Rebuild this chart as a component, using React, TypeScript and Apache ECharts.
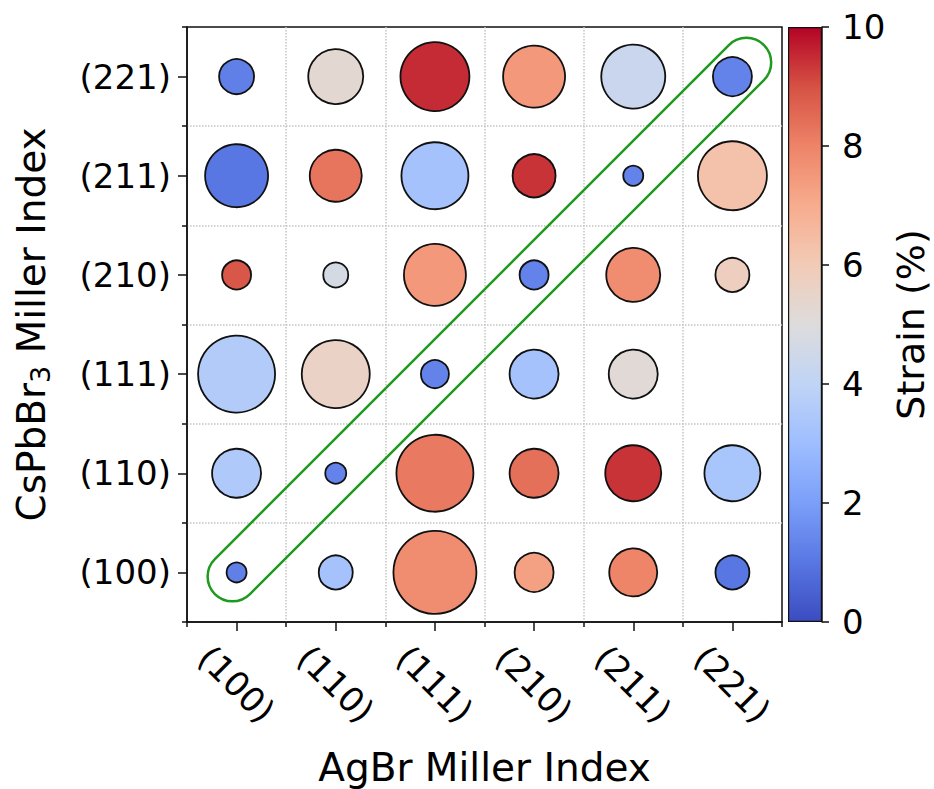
import React, { useEffect, useRef } from "react";
import * as echarts from "echarts";

// AgBr (x) and CsPbBr3 (y) Miller indices
const xLabels = ["(100)", "(110)", "(111)", "(210)", "(211)", "(221)"];
const yLabels = ["(100)", "(110)", "(111)", "(210)", "(211)", "(221)"];

// Strain (%) per row, row 0 = CsPbBr3 (100) ... row 5 = (221); null = no match
const strainRows: (number | null)[][] = [
  [1.2, 3.2, 7.8, 7.3, 8.0, 1.0],
  [3.5, 1.3, 8.2, 8.4, 9.4, 3.3],
  [3.6, 5.6, 1.3, 3.2, 5.2, null],
  [8.9, 4.7, 7.5, 1.3, 7.8, 5.8],
  [1.0, 8.3, 3.2, 9.4, 1.3, 6.3],
  [1.2, 5.3, 9.5, 7.5, 4.3, 1.3],
];

// Relative marker size per row (same layout)
const sizeRows: (number | null)[][] = [
  [2.1, 3.5, 8.4, 4.0, 4.9, 3.5],
  [5.0, 2.2, 7.8, 5.0, 5.7, 5.7],
  [7.8, 6.9, 2.9, 5.0, 5.0, null],
  [3.0, 2.6, 6.3, 3.0, 5.5, 3.5],
  [6.4, 5.3, 6.8, 4.4, 2.1, 7.0],
  [3.6, 5.6, 7.0, 6.3, 6.5, 4.0],
];

// Highlighted diagonal (matching indices): from (100,100) to (221,221)
const highlight = [[0, 0, 5, 5]];

// Colour bar
const strainMin = 0;
const strainMax = 10;
const strainTickStep = 2;

// coolwarm colormap stops
const coolwarm = [
  "#3b4cc0", "#5977e3", "#7b9ff9", "#9ebeff", "#c0d4f5", "#dddcdc",
  "#f2cbb7", "#f7ac8e", "#ee8468", "#d65244", "#b40426",
];

const FONT = "DejaVu Sans";

export default function App() {
  const ref = useRef<HTMLDivElement>(null);

  useEffect(() => {
    if (!ref.current) return;
    const chart = echarts.init(ref.current, null, { renderer: "svg" });

    const points: any[] = [];
    strainRows.forEach((row, yi) =>
      row.forEach((s, xi) => {
        const sz = sizeRows[yi][xi];
        if (s !== null && sz !== null) points.push([xi, yi, s, sz]);
      })
    );

    const gridLeft = 187;
    const gridTop = 27;
    const gridSize = 595;
    const tickFont = 34;
    const nameFont = 39;

    const gradient = new echarts.graphic.LinearGradient(
      0, 1, 0, 0,
      coolwarm.map((c, i) => ({ offset: i / (coolwarm.length - 1), color: c }))
    );

    const axisLineStyle = { color: "#111", width: 1.5 };
    const gridLine = {
      show: true, showMinLine: false, showMaxLine: false,
      lineStyle: { color: "#c4c4c4", type: "dotted", width: 1.5 },
    };

    const option: any = {
      animation: false,
      backgroundColor: "#fff",
      textStyle: { fontFamily: FONT, color: "#000" },
      grid: [
        {
          left: gridLeft, top: gridTop, width: gridSize, height: gridSize,
          show: true, borderColor: "#111", borderWidth: 1.5, backgroundColor: "#fff",
          outerBoundsMode: "none", containLabel: false,
        },
        {
          left: 788, top: gridTop, width: 34, height: gridSize,
          outerBoundsMode: "none", containLabel: false,
        },
      ],
      xAxis: [
        {
          gridIndex: 0, type: "category", data: xLabels, position: "bottom",
          axisLine: { show: true, lineStyle: axisLineStyle },
          axisTick: { show: true, alignWithLabel: true, length: 9, lineStyle: axisLineStyle },
          axisLabel: {
            fontSize: tickFont, color: "#000", fontFamily: FONT, rotate: -45,
            align: "center", verticalAlign: "middle", margin: 62, interval: 0,
          },
          splitLine: gridLine,
          name: "AgBr Miller Index", nameLocation: "middle", nameGap: 126,
          nameTextStyle: { fontSize: nameFont, color: "#000", fontFamily: FONT },
        },
        {
          gridIndex: 0, type: "category", data: xLabels, position: "bottom",
          axisLine: { show: false },
          axisTick: { show: true, alignWithLabel: false, length: 5, lineStyle: axisLineStyle },
          axisLabel: { show: false }, splitLine: { show: false },
        },
        {
          gridIndex: 1, type: "category", data: ["bar"], show: false,
        },
      ],
      yAxis: [
        {
          gridIndex: 0, type: "category", data: yLabels, position: "left",
          axisLine: { show: true, lineStyle: axisLineStyle },
          axisTick: { show: true, alignWithLabel: true, length: 9, lineStyle: axisLineStyle },
          axisLabel: { fontSize: tickFont, color: "#000", fontFamily: FONT, margin: 16, interval: 0 },
          splitLine: gridLine,
          name: "{a|CsPbBr}{s|3}{a| Miller Index}",
          nameLocation: "middle", nameGap: 133, nameRotate: 90,
          nameTextStyle: {
            fontSize: nameFont, color: "#000", fontFamily: FONT,
            rich: {
              a: { fontSize: nameFont, fontFamily: FONT, color: "#000", lineHeight: 46 },
              s: { fontSize: 27, fontFamily: FONT, color: "#000", lineHeight: 26, verticalAlign: "bottom" },
            },
          },
        },
        {
          gridIndex: 0, type: "category", data: yLabels, position: "left",
          axisLine: { show: false },
          axisTick: { show: true, alignWithLabel: false, length: 5, lineStyle: axisLineStyle },
          axisLabel: { show: false }, splitLine: { show: false },
        },
        {
          gridIndex: 1, type: "value", position: "right",
          min: strainMin, max: strainMax, interval: strainTickStep,
          axisLine: { show: true, lineStyle: axisLineStyle },
          axisTick: { show: true, length: 7, lineStyle: axisLineStyle },
          axisLabel: { fontSize: tickFont, color: "#000", fontFamily: FONT, margin: 20 },
          splitLine: { show: false },
          name: "Strain (%)", nameLocation: "middle", nameGap: 70, nameRotate: 90,
          nameTextStyle: { fontSize: nameFont - 1, color: "#000", fontFamily: FONT },
        },
      ],
      visualMap: {
        show: false, type: "continuous", min: strainMin, max: strainMax,
        dimension: 2, seriesIndex: 0, inRange: { color: coolwarm },
      },
      series: [
        {
          type: "scatter", xAxisIndex: 0, yAxisIndex: 0, data: points,
          symbol: "circle",
          symbolSize: (v: number[]) => v[3] * 10 - 1,
          itemStyle: { borderColor: "#111", borderWidth: 1.8, opacity: 1 },
          z: 3,
        },
        {
          type: "custom", xAxisIndex: 0, yAxisIndex: 0, data: highlight,
          silent: true, clip: false, z: 4,
          renderItem: (params: any, api: any) => {
            const a = api.coord([api.value(0), api.value(1)]);
            const b = api.coord([api.value(2), api.value(3)]);
            const unit = api.size([1, 1]);
            const u = unit[0];
            const dx = b[0] - a[0];
            const dy = b[1] - a[1];
            const len = Math.hypot(dx, dy);
            const ux = dx / len;
            const uy = dy / len;
            const e0 = 0.06 * u;
            const e1 = 0.2 * u;
            const r = 0.25 * u;
            const sx = a[0] - ux * e0, sy = a[1] - uy * e0;
            const ex = b[0] + ux * e1, ey = b[1] + uy * e1;
            const L = Math.hypot(ex - sx, ey - sy) + 2 * r;
            return {
              type: "rect",
              x: (sx + ex) / 2,
              y: (sy + ey) / 2,
              rotation: -Math.atan2(dy, dx),
              shape: { x: -L / 2, y: -r, width: L, height: 2 * r, r: r },
              style: { fill: "none", stroke: "#1e9a1e", lineWidth: 2.5 },
            };
          },
        },
        {
          type: "bar", xAxisIndex: 2, yAxisIndex: 2, data: [strainMax],
          barWidth: "100%", silent: true,
          itemStyle: { color: gradient, borderColor: "#111", borderWidth: 1.2 },
        },
      ],
    };

    chart.setOption(option);
    return () => chart.dispose();
  }, []);

  return (
    <div
      ref={ref}
      style={{ position: "fixed", left: 0, top: 0, width: 934, height: 789, background: "#fff" }}
    />
  );
}
